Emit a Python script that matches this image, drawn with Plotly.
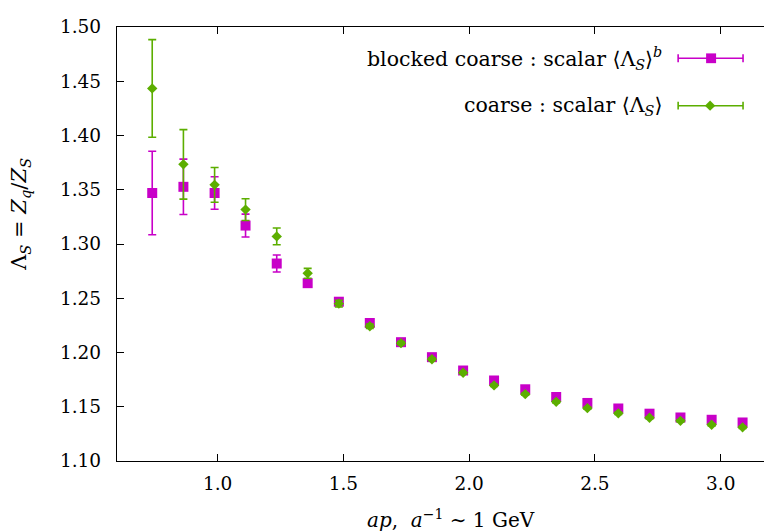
import plotly.graph_objects as go

# ---- data ----
x_ap = [0.740, 0.864, 0.988, 1.111, 1.235, 1.358, 1.482, 1.605, 1.729, 1.852,
        1.976, 2.099, 2.223, 2.346, 2.470, 2.593, 2.717, 2.840, 2.964, 3.087]

blocked_vals = [1.347, 1.3527, 1.347, 1.317, 1.282, 1.2639, 1.2468, 1.2272, 1.2095, 1.1957,
                1.1834, 1.1742, 1.1661, 1.1590, 1.1535, 1.1484, 1.1436, 1.1401, 1.1380, 1.1355]
blocked_err = [0.0385, 0.0255, 0.015, 0.0105, 0.0078, 0.003, 0.002, 0.0015, 0.0012, 0.001,
               0.001, 0.001, 0.001, 0.001, 0.001, 0.001, 0.001, 0.001, 0.001, 0.001]

coarse_vals = [1.4434, 1.3734, 1.3545, 1.3317, 1.307, 1.273, 1.245, 1.2242, 1.2086, 1.1938,
               1.1814, 1.1697, 1.1616, 1.1545, 1.1487, 1.1439, 1.1398, 1.1370, 1.1334, 1.1310]
coarse_err = [0.045, 0.032, 0.016, 0.010, 0.0077, 0.0045, 0.003, 0.002, 0.0015, 0.0012,
              0.001, 0.001, 0.001, 0.001, 0.001, 0.001, 0.001, 0.001, 0.001, 0.001]

x_ticks = [1.0, 1.5, 2.0, 2.5, 3.0]
y_ticks = [1.10, 1.15, 1.20, 1.25, 1.30, 1.35, 1.40, 1.45, 1.50]

label_blocked = "blocked coarse : scalar ⟨Λ<sub><i>S</i></sub>⟩<sup><i>b</i></sup>"
label_coarse = "coarse : scalar ⟨Λ<sub><i>S</i></sub>⟩"
x_title = "<i>ap</i>,&nbsp;&nbsp;<i>a</i><sup>−1</sup> ∼ 1 GeV"
y_title = "Λ<sub><i>S</i></sub>&nbsp;=&nbsp;<i>Z<sub>q</sub></i>/<i>Z<sub>S</sub></i>"

MAGENTA = "#c800c8"
GREEN = "#5cae00"
FONT = "DejaVu Serif"

# page offset of the plot div (body margin)
OX, OY = 8, 8
W, H = 772, 532
# desired plot area in window pixels: x 117..772, y 17..461
L, T = 117 - OX, 17 - OY
PW, PH = 655, 444
R = W - L - PW
B = H - T - PH


def px(xp):
    return (xp - OX - L) / PW


def py(yp):
    return (OY + T + PH - yp) / PH


fig = go.Figure()
fig.add_trace(go.Scatter(
    x=x_ap, y=blocked_vals, mode="markers", name=label_blocked, showlegend=False,
    marker=dict(symbol="square", size=10, color=MAGENTA),
    error_y=dict(type="data", array=blocked_err, color=MAGENTA, thickness=1.6, width=4)))
fig.add_trace(go.Scatter(
    x=x_ap, y=coarse_vals, mode="markers", name=label_coarse, showlegend=False,
    marker=dict(symbol="diamond", size=8, color=GREEN),
    error_y=dict(type="data", array=coarse_err, color=GREEN, thickness=1.6, width=4)))

# ---- manual key (text left, sample right, as in the reference) ----
shapes = []
annotations = []
keys = [(label_blocked, MAGENTA, 49, "square", 712), (label_coarse, GREEN, 97.5, "diamond", 711)]
for text, col, yk, sym, xm in keys:
    x0, x1 = 679, 744
    path = (f"M{px(x0)},{py(yk)} L{px(x1)},{py(yk)} "
            f"M{px(x0)},{py(yk - 4)} L{px(x0)},{py(yk + 4)} "
            f"M{px(x1)},{py(yk - 4)} L{px(x1)},{py(yk + 4)}")
    shapes.append(dict(type="path", xref="paper", yref="paper", path=path,
                       line=dict(color=col, width=1.6)))
    if sym == "square":
        shapes.append(dict(type="rect", xref="paper", yref="paper",
                           x0=px(xm - 5), x1=px(xm + 5), y0=py(yk + 5), y1=py(yk - 5),
                           fillcolor=col, line=dict(width=0)))
    else:
        d = 5.2
        p = (f"M{px(xm)},{py(yk - d)} L{px(xm + d)},{py(yk)} L{px(xm)},{py(yk + d)} "
             f"L{px(xm - d)},{py(yk)} Z")
        shapes.append(dict(type="path", xref="paper", yref="paper", path=p,
                           fillcolor=col, line=dict(width=0)))
    annotations.append(dict(text=text, xref="paper", yref="paper", x=px(665), y=py(yk),
                            xanchor="right", yanchor="middle", showarrow=False,
                            font=dict(family=FONT, size=20.5, color="#000")))

# axis titles
annotations.append(dict(text=y_title,
                        xref="paper", yref="paper", x=px(20), y=py(209), textangle=-90,
                        xanchor="center", yanchor="middle", showarrow=False,
                        font=dict(family=FONT, size=21, color="#000")))
annotations.append(dict(text=x_title,
                        xref="paper", yref="paper", x=px(452), y=py(520),
                        xanchor="center", yanchor="middle", showarrow=False,
                        font=dict(family=FONT, size=20, color="#000")))

axis_common = dict(showgrid=False, zeroline=False, showline=True, linecolor="#000",
                   linewidth=1.3, mirror="ticks", ticks="inside", ticklen=7,
                   tickwidth=1.2, tickcolor="#000", ticklabeloverflow="allow",
                   tickfont=dict(family=FONT, size=18.5, color="#000"))

fig.update_layout(
    width=W, height=H,
    margin=dict(l=L, r=R, t=T, b=B),
    font=dict(family=FONT),
    paper_bgcolor="white", plot_bgcolor="white",
    xaxis=dict(range=[0.6, 3.2], tickvals=x_ticks, ticktext=[f"{v:.1f}" for v in x_ticks],
               ticklabelstandoff=6, **axis_common),
    yaxis=dict(range=[1.10, 1.50], tickvals=y_ticks, ticktext=[f"{v:.2f}" for v in y_ticks],
               ticklabelstandoff=11, **axis_common),
    shapes=shapes, annotations=annotations,
    showlegend=False,
)

fig.write_html("out.html")
